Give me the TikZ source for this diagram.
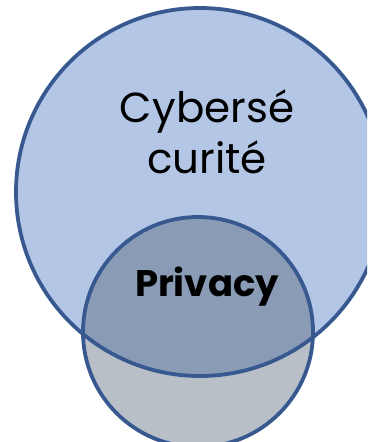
\documentclass[tikz,border=0pt]{standalone}
\usepackage{fontspec}
\setmainfont{Poppins}
\begin{document}
\begin{tikzpicture}[x=1pt,y=-1pt,
  edge/.style={draw=ringblue,line width=3.8pt},
  label/.style={font=\fontsize{42}{50}\selectfont,align=center,inner sep=0pt}]
\definecolor{ringblue}{HTML}{37598F}
\definecolor{bigfill}{HTML}{B3C6E6}
\definecolor{smallfill}{HTML}{B8BFC7}
\definecolor{capfill}{HTML}{8A9BB6}
\useasboundingbox (0,0) rectangle (367,442);
\clip (0,0) rectangle (367,442);
\coordinate (cb) at (200,192);
\coordinate (cs) at (198,332);
\fill[bigfill] (cb) circle[radius=184];
\fill[smallfill] (cs) circle[radius=115];
\begin{scope}
  \clip (cb) circle[radius=184];
  \fill[capfill] (cs) circle[radius=115];
\end{scope}
\draw[edge] (cb) circle[radius=184];
\draw[edge] (cs) circle[radius=115];
\node[label,anchor=base] (cyber) at (207,122) {Cybersé};
\node[label,anchor=base] (curite) at (207,173) {curité};
\node[label,anchor=base,font=\fontsize{37}{50}\selectfont\bfseries] (priv) at (207,296) {Privacy};
\end{tikzpicture}
\end{document}
